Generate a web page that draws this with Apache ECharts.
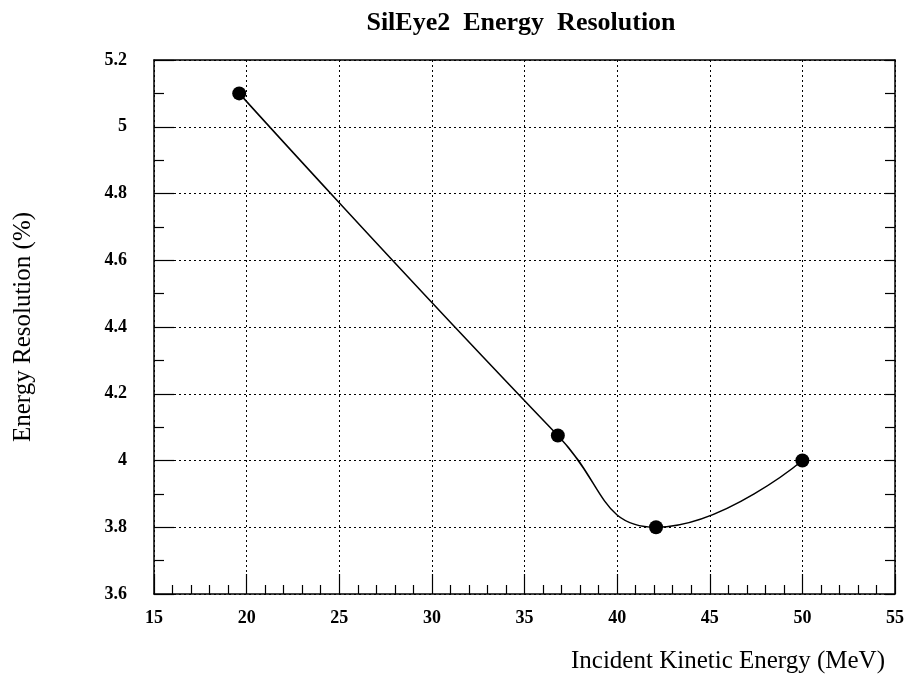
<!DOCTYPE html>
<html>
<head>
<meta charset="utf-8">
<script src="https://cdn.jsdelivr.net/npm/echarts@6/dist/echarts.min.js"></script>
<style>html,body{margin:0;padding:0;background:#fff;}#c{width:915px;height:688px;}</style>
</head>
<body>
<div id="c"></div>
<script>
const energy = [19.6, 36.8, 42.1, 50.0];
const resolution = [5.10, 4.075, 3.80, 4.00];
const titleText = 'SilEye2  Energy  Resolution';
const xName = 'Incident Kinetic Energy (MeV)';
const yName = 'Energy Resolution (%)';

const chart = echarts.init(document.getElementById('c'));
const serif = '"Liberation Serif", "DejaVu Serif", serif';
const tickLabel = {color: '#000', fontFamily: serif, fontWeight: 'bold', fontSize: 18};
chart.setOption({
  backgroundColor: '#fff',
  animation: false,
  title: {
    text: titleText, left: 516, top: 5, textAlign: 'center',
    textStyle: {fontFamily: serif, fontWeight: 'bold', fontSize: 26, color: '#000'}
  },
  graphic: [{
    type: 'text', right: 30, top: 649,
    style: {text: xName, fontFamily: serif, fontSize: 25, fill: '#000'}
  }],
  grid: {left: 154, top: 60, right: 20, bottom: 94},
  xAxis: [{
    type: 'value', min: 15, max: 55, interval: 5,
    axisLine: {show: true, lineStyle: {color: '#000', width: 1.5}},
    axisTick: {show: true, inside: true, length: 20, lineStyle: {color: '#000', width: 1.2}},
    minorTick: {show: true, splitNumber: 5, length: 9, lineStyle: {color: '#000', width: 1.2}},
    axisLabel: Object.assign({margin: 15}, tickLabel),
    splitLine: {show: true, lineStyle: {color: '#000', type: [2, 3], width: 1}}
  }, {
    type: 'value', min: 15, max: 55, position: 'top',
    axisLine: {show: true, lineStyle: {color: '#000', width: 1.5}},
    axisTick: {show: false}, axisLabel: {show: false}, splitLine: {show: false}
  }],
  yAxis: [{
    type: 'value', min: 3.6, max: 5.2, interval: 0.2,
    name: yName, nameLocation: 'middle', nameGap: 118,
    nameTextStyle: {fontFamily: serif, fontSize: 25, color: '#000'},
    axisLine: {show: true, lineStyle: {color: '#000', width: 1.5}},
    axisTick: {show: true, inside: true, length: 20, lineStyle: {color: '#000', width: 1.2}},
    minorTick: {show: true, splitNumber: 2, length: 10, lineStyle: {color: '#000', width: 1.2}},
    axisLabel: Object.assign({margin: 27, formatter: v => String(Math.round(v * 10) / 10)}, tickLabel),
    splitLine: {show: true, lineStyle: {color: '#000', type: [2, 3], width: 1}}
  }, {
    type: 'value', min: 3.6, max: 5.2, interval: 0.2, position: 'right',
    axisLine: {show: true, lineStyle: {color: '#000', width: 1.5}},
    axisTick: {show: true, inside: true, length: 10, lineStyle: {color: '#000', width: 1.2}},
    minorTick: {show: true, splitNumber: 2, length: 10, lineStyle: {color: '#000', width: 1.2}},
    axisLabel: {show: false}, splitLine: {show: false}
  }],
  series: [{
    type: 'line',
    data: energy.map((x, i) => [x, resolution[i]]),
    smooth: 0.5,
    symbol: 'circle', symbolSize: 14,
    itemStyle: {color: '#000'},
    lineStyle: {color: '#000', width: 1.5}
  }]
});
</script>
</body>
</html>
